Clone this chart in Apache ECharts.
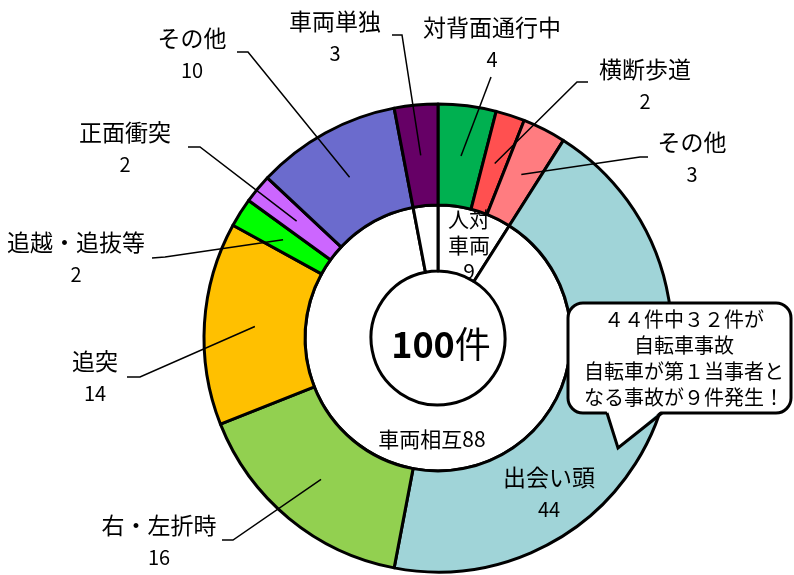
<!DOCTYPE html>
<html>
<head>
<meta charset="utf-8">
<script src="https://cdn.jsdelivr.net/npm/echarts@6/dist/echarts.min.js"></script>
<style>
  html, body { margin: 0; padding: 0; background: #fff; }
  #chart { width: 794px; height: 575px; }
</style>
</head>
<body>
<div id="chart"></div>
<script>
// 外側（事故類型）
var names = ['対背面通行中', '横断歩道', 'その他', '出会い頭', '右・左折時', '追突', '追越・追抜等', '正面衝突', 'その他', '車両単独'];
var values = [4, 2, 3, 44, 16, 14, 2, 2, 10, 3];
var colors = ['#00B050', '#FF5050', '#FF7C80', '#A0D4D8', '#92D050', '#FFC000', '#00FF00', '#CC66FF', '#6B6BCD', '#660066'];
// 内側（大分類）
var groupNames = ['人対車両', '車両相互', '車両単独'];
var groupValues = [9, 88, 3];
var noteLines = ['４４件中３２件が', '自転車事故', '自転車が第１当事者と', 'なる事故が９件発生！'];

var cx = 438, cy = 338;
var rIn = 67, rMid = 133, rOut = 234;
var font = 'Noto Sans CJK JP';

// ラベル位置 [x, y, 引出線の端, 折れ点]
var outerLabelPos = [
  [492, 43, [491, 77], [491, 77]],
  [645, 85, [588, 82], [577, 82]],
  [692, 158, [648, 157], [640, 157]],
  [549, 493, null, null],
  [159, 541, [222, 540], [233, 540]],
  [95, 377, [127, 377], [140, 377]],
  [76, 258, [152, 258], [165, 257]],
  [125, 148, [188, 147], [200, 147]],
  [192, 54, [237, 52], [248, 52]],
  [335, 37, [392, 35], [402, 35]]
];
var innerLabelPos = [[469, 245], [432, 439], null];

var total = values.reduce(function (a, b) { return a + b; }, 0);

function midPoint(i) {
  var cum = 0;
  for (var k = 0; k < i; k++) cum += values[k];
  var a = (cum + values[i] / 2) / total * Math.PI * 2;
  var r = (rMid + rOut) / 2;
  return [cx + r * Math.sin(a), cy - r * Math.cos(a)];
}

var outerData = names.map(function (n, i) {
  return { name: n, value: values[i], itemStyle: { color: colors[i] } };
});

var chart = echarts.init(document.getElementById('chart'));
chart.setOption({
  backgroundColor: '#ffffff',
  animation: false,
  series: [
    {
      type: 'pie',
      center: [cx, cy],
      radius: [rIn, rMid],
      startAngle: 90,
      clockwise: true,
      avoidLabelOverlap: false,
      silent: true,
      itemStyle: { color: '#ffffff', borderColor: '#000', borderWidth: 3 },
      label: {
        show: true,
        position: 'inside',
        fontFamily: font,
        fontSize: 21,
        lineHeight: 26,
        color: '#000',
        formatter: function (p) {
          if (p.dataIndex === 0) return p.name.slice(0, 2) + '\n' + p.name.slice(2) + '\n' + p.value;
          if (p.dataIndex === 1) return p.name + p.value;
          return '';
        }
      },
      labelLayout: function (p) {
        var pos = innerLabelPos[p.dataIndex];
        if (!pos) return {};
        return { x: pos[0], y: pos[1], align: 'center', verticalAlign: 'middle' };
      },
      data: groupNames.map(function (n, i) { return { name: n, value: groupValues[i] }; })
    },
    {
      type: 'pie',
      center: [cx, cy],
      radius: [rMid, rOut],
      startAngle: 90,
      clockwise: true,
      silent: true,
      itemStyle: { borderColor: '#000', borderWidth: 3 },
      label: { show: false },
      labelLine: { show: false },
      data: outerData
    },
    // ラベルと引出線だけを前面に描く
    {
      type: 'pie',
      z: 5,
      center: [cx, cy],
      radius: [rMid, rOut],
      startAngle: 90,
      clockwise: true,
      avoidLabelOverlap: false,
      silent: true,
      itemStyle: { color: 'rgba(0,0,0,0)', borderWidth: 0 },
      label: {
        show: true,
        position: 'outside',
        color: '#000',
        fontFamily: font,
        formatter: function (p) { return '{n|' + p.name + '}\n{v|' + p.value + '}'; },
        rich: {
          n: { fontFamily: font, fontSize: 23, lineHeight: 32, color: '#000' },
          v: { fontFamily: font, fontSize: 20, lineHeight: 32, color: '#000' }
        }
      },
      labelLine: { show: true, lineStyle: { color: '#000', width: 1.5 } },
      labelLayout: function (p) {
        var pos = outerLabelPos[p.dataIndex];
        var o = { x: pos[0], y: pos[1], align: 'center', verticalAlign: 'middle' };
        if (pos[2]) o.labelLinePoints = [midPoint(p.dataIndex), pos[3], pos[2]];
        return o;
      },
      data: names.map(function (n, i) {
        var d = { name: n, value: values[i] };
        if (!outerLabelPos[i][2]) d.labelLine = { show: false };
        return d;
      })
    }
  ],
  graphic: [
    {
      type: 'text',
      z: 100,
      x: cx + 3,
      y: cy + 6,
      style: {
        text: '{a|' + total + '}{b|件}',
        align: 'center',
        verticalAlign: 'middle',
        rich: {
          a: { fontFamily: font, fontSize: 36, fontWeight: 'bold', fill: '#000' },
          b: { fontFamily: font, fontSize: 36, fill: '#000' }
        }
      }
    },
    // 吹き出し
    {
      type: 'rect',
      z: 100,
      shape: { x: 568, y: 303, width: 223, height: 110, r: 15 },
      style: { fill: '#ffffff', stroke: '#000', lineWidth: 3 }
    },
    {
      type: 'polygon',
      z: 101,
      shape: { points: [[606, 409], [618, 448], [663, 409]] },
      style: { fill: '#ffffff' }
    },
    {
      type: 'polyline',
      z: 102,
      shape: { points: [[607, 413], [618, 448], [662, 413]] },
      style: { fill: null, stroke: '#000', lineWidth: 3 }
    },
    {
      type: 'text',
      z: 103,
      x: 684,
      y: 358,
      style: {
        text: noteLines.join('\n'),
        align: 'center',
        verticalAlign: 'middle',
        fontFamily: font,
        fontSize: 20,
        lineHeight: 26,
        fill: '#000'
      }
    }
  ]
});
</script>
</body>
</html>
